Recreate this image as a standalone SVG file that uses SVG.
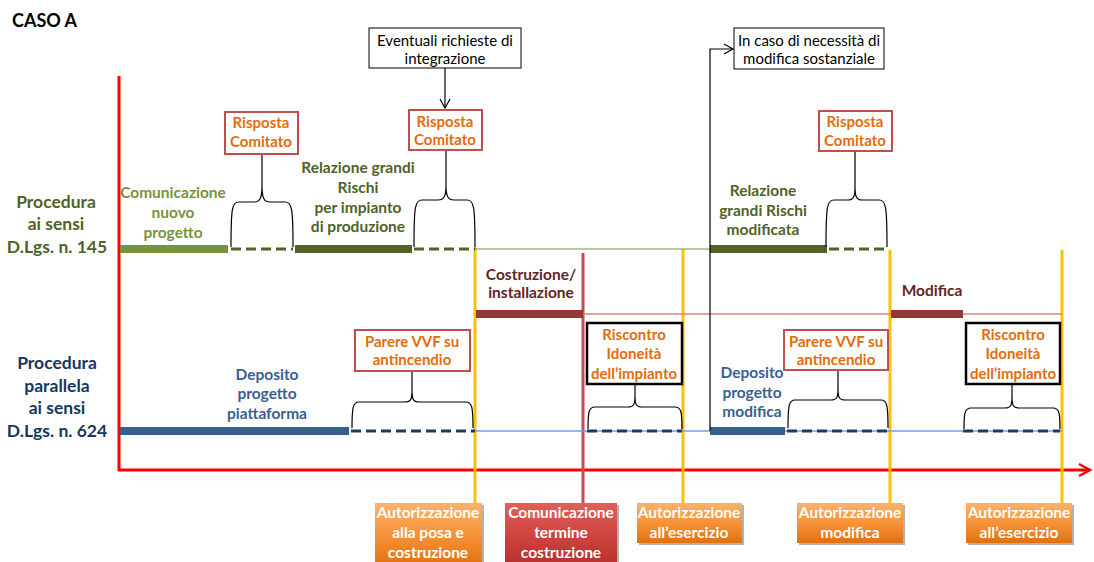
<svg xmlns="http://www.w3.org/2000/svg" width="1094" height="562" viewBox="0 0 1094 562">
<defs>
<style>
text{font-family:Lato,"Liberation Sans",sans-serif;text-anchor:middle}
.b{font-weight:bold}
.g1{fill:#4F6228;font-size:17.5px;font-weight:bold}
.b1{fill:#17375E;font-size:17.5px;font-weight:bold}
.lg{fill:#77933C;font-size:15.5px;font-weight:bold}
.dg{fill:#4F6228;font-size:15.5px;font-weight:bold}
.bl{fill:#376092;font-size:15.5px;font-weight:bold}
.dr{fill:#632523;font-size:15.5px;font-weight:bold}
.or{fill:#E46C0A;font-size:15px;font-weight:bold}
.nt{fill:#000;font-size:15px}
.wt{fill:#fff;font-size:15.5px;font-weight:bold}
.rbox{fill:#fff;stroke:#C0504D;stroke-width:2}
.kbox{fill:#fff;stroke:#000;stroke-width:2.5}
.nbox{fill:#fff;stroke:#000;stroke-width:1}
.brace{fill:none;stroke:#000;stroke-width:1.2}
.dashg{stroke:#4F6228;stroke-width:3;stroke-dasharray:10 5;fill:none}
.dashb{stroke:#1F3864;stroke-width:3;stroke-dasharray:10 5;fill:none}
.yl{stroke:#FFC000;stroke-width:3}
.shadow{fill:#000;opacity:0.3}
</style>
<linearGradient id="og" x1="0" y1="0" x2="0" y2="1">
<stop offset="0" stop-color="#FCB26C"/>
<stop offset="0.5" stop-color="#F79238"/>
<stop offset="1" stop-color="#E1700F"/>
</linearGradient>
<linearGradient id="rg" x1="0" y1="0" x2="0" y2="1">
<stop offset="0" stop-color="#E0605C"/>
<stop offset="0.5" stop-color="#CF4440"/>
<stop offset="1" stop-color="#B3302C"/>
</linearGradient>
<marker id="oa" markerWidth="12" markerHeight="12" refX="10" refY="6" orient="auto" markerUnits="userSpaceOnUse">
<path d="M1,1 L10,6 L1,11" fill="none" stroke="#000" stroke-width="1.2"/>
</marker>
<marker id="ra" markerWidth="16" markerHeight="16" refX="13" refY="8" orient="auto" markerUnits="userSpaceOnUse">
<path d="M2,2 L13,8 L2,14" fill="none" stroke="#FF0000" stroke-width="2.5"/>
</marker>
</defs>

<rect width="1094" height="562" fill="#fff"/>

<text x="12" y="27" class="b" style="text-anchor:start;font-size:18px;fill:#000">CASO A</text>

<g id="labels-left">
<text class="g1" x="56" y="208">Procedura</text>
<text class="g1" x="56" y="230">ai sensi</text>
<text class="g1" x="57" y="253">D.Lgs. n. 145</text>
<text class="b1" x="57" y="369">Procedura</text>
<text class="b1" x="57" y="392">parallela</text>
<text class="b1" x="57" y="414">ai sensi</text>
<text class="b1" x="57" y="437">D.Lgs. n. 624</text>
</g>

<g id="axes">
<line x1="119" y1="76" x2="119" y2="471" stroke="#FF0000" stroke-width="3"/>
<line x1="118" y1="470" x2="1090" y2="470" stroke="#FF0000" stroke-width="3" marker-end="url(#ra)"/>
</g>

<g id="connectors">
<line class="yl" x1="475" y1="247" x2="475" y2="504"/>
<line class="yl" x1="683" y1="249" x2="683" y2="504"/>
<line class="yl" x1="890" y1="250" x2="890" y2="504"/>
<line class="yl" x1="1062" y1="250" x2="1062" y2="504"/>
<line x1="583" y1="253" x2="583" y2="504" stroke="#C0504D" stroke-width="3"/>
<line x1="475" y1="249" x2="710" y2="249" stroke="#77933C" stroke-width="1"/>
<line x1="120" y1="249" x2="228" y2="249" stroke="#77933C" stroke-width="8"/>
<line class="dashg" x1="231" y1="249" x2="293" y2="249"/>
<line x1="295" y1="249" x2="412" y2="249" stroke="#4F6228" stroke-width="8"/>
<line class="dashg" x1="414" y1="249" x2="475" y2="249"/>
<line x1="710" y1="249" x2="827" y2="249" stroke="#4F6228" stroke-width="8"/>
<line class="dashg" x1="829" y1="249" x2="887" y2="249"/>
<line x1="583" y1="314" x2="1062" y2="314" stroke="#D08583" stroke-width="1.5"/>
<line x1="476" y1="314" x2="583" y2="314" stroke="#953735" stroke-width="8"/>
<line x1="891" y1="314" x2="963" y2="314" stroke="#953735" stroke-width="8"/>
<line x1="475" y1="431" x2="1062" y2="431" stroke="#6FA0DC" stroke-width="1.5"/>
<line x1="120" y1="431" x2="349" y2="431" stroke="#366092" stroke-width="8"/>
<line class="dashb" x1="351" y1="431" x2="475" y2="431"/>
<line class="dashb" x1="587" y1="431" x2="682" y2="431"/>
<line x1="710" y1="431" x2="785" y2="431" stroke="#366092" stroke-width="8"/>
<line class="dashb" x1="787" y1="431" x2="888" y2="431"/>
<line class="dashb" x1="963" y1="431" x2="1060" y2="431"/>
<line x1="445" y1="68" x2="445" y2="108" stroke="#000" stroke-width="1.2" marker-end="url(#oa)"/>
<polyline points="710,431 710,49 733,49" fill="none" stroke="#000" stroke-width="1.2" marker-end="url(#oa)"/>
<path class="brace" d="M231,247 C231,208 232,202 239,202 L254,202 C260,202 262,198 262,186 L262,155 M262,186 C262,198 264,202 270,202 L285,202 C292,202 293,208 293,247"/>
<path class="brace" d="M414,247 C414,206 415,200 422,200 L438,200 C444,200 446,196 446,186 L446,150 M446,186 C446,196 448,200 454,200 L467,200 C474,200 475,206 475,247"/>
<path class="brace" d="M826,247 C826,206 827,200 834,200 L848,200 C854,200 855,196 855,186 L855,151 M855,186 C855,196 856,200 862,200 L879,200 C886,200 887,206 887,247"/>
<path class="brace" d="M352,428 C352,407 353,402 359,402 L405,402 C411,402 412,399 412,390 L412,371 M412,390 C412,399 413,402 419,402 L466,402 C472,402 473,407 473,428"/>
<path class="brace" d="M588,429 C588,411 589,407 595,407 L628,407 C634,407 635,404 635,396 L635,384 M635,396 C635,404 636,407 642,407 L675,407 C681,407 682,411 682,429"/>
<path class="brace" d="M788,428 C788,405 789,400 795,400 L831,400 C837,400 838,397 838,389 L838,370 M838,389 C838,397 839,400 845,400 L881,400 C887,400 888,405 888,428"/>
<path class="brace" d="M964,429 C964,412 965,408 971,408 L1005,408 C1011,408 1012,405 1012,397 L1012,384 M1012,397 C1012,405 1013,408 1019,408 L1053,408 C1059,408 1060,412 1060,429"/>
</g>

<g id="lbl-comunicazione">
<text class="lg" x="173" y="198">Comunicazione</text>
<text class="lg" x="173" y="218">nuovo</text>
<text class="lg" x="173" y="238">progetto</text>
</g>
<g id="lbl-relazione">
<text class="dg" x="358" y="173">Relazione grandi</text>
<text class="dg" x="358" y="193">Rischi</text>
<text class="dg" x="358" y="213">per impianto</text>
<text class="dg" x="358" y="232">di produzione</text>
</g>
<g id="lbl-relazione-mod">
<text class="dg" x="763" y="196">Relazione</text>
<text class="dg" x="763" y="216">grandi Rischi</text>
<text class="dg" x="763" y="235">modificata</text>
</g>
<g id="lbl-costruzione">
<text class="dr" x="531" y="280">Costruzione/</text>
<text class="dr" x="531" y="298">installazione</text>
</g>
<g id="lbl-modifica">
<text class="dr" x="932" y="296">Modifica</text>
</g>
<g id="lbl-deposito">
<text class="bl" x="267" y="380">Deposito</text>
<text class="bl" x="267" y="399">progetto</text>
<text class="bl" x="267" y="419">piattaforma</text>
</g>
<g id="lbl-deposito-mod">
<text class="bl" x="752" y="378">Deposito</text>
<text class="bl" x="752" y="398">progetto</text>
<text class="bl" x="752" y="417">modifica</text>
</g>

<g id="box-eventuali">
<rect class="nbox" x="369" y="28" width="152" height="40"/>
<text class="nt" x="445" y="46">Eventuali richieste di</text>
<text class="nt" x="445" y="64">integrazione</text>
</g>
<g id="box-incaso">
<rect class="nbox" x="734" y="28" width="150" height="41"/>
<text class="nt" x="809" y="46">In caso di necessità di</text>
<text class="nt" x="809" y="64">modifica sostanziale</text>
</g>

<g id="box-risposta1">
<rect class="rbox" x="225" y="112" width="73" height="42"/>
<text class="or" x="261" y="128">Risposta</text>
<text class="or" x="261" y="147">Comitato</text>
</g>
<g id="box-risposta2">
<rect class="rbox" x="409" y="110" width="73" height="40"/>
<text class="or" x="445" y="127">Risposta</text>
<text class="or" x="445" y="145">Comitato</text>
</g>
<g id="box-risposta3">
<rect class="rbox" x="819" y="111" width="73" height="40"/>
<text class="or" x="855" y="127">Risposta</text>
<text class="or" x="855" y="146">Comitato</text>
</g>

<g id="box-parere1">
<rect class="rbox" x="355" y="330" width="115" height="41"/>
<text class="or" x="412" y="347">Parere VVF su</text>
<text class="or" x="412" y="365">antincendio</text>
</g>
<g id="box-parere2">
<rect class="rbox" x="784" y="330" width="104" height="40"/>
<text class="or" x="836" y="347">Parere VVF su</text>
<text class="or" x="836" y="365">antincendio</text>
</g>
<g id="box-riscontro1">
<rect class="kbox" x="587" y="323" width="95" height="61"/>
<text class="or" x="634" y="340">Riscontro</text>
<text class="or" x="634" y="359">Idoneità</text>
<text class="or" x="634" y="379">dell’impianto</text>
</g>
<g id="box-riscontro2">
<rect class="kbox" x="966" y="323" width="94" height="61"/>
<text class="or" x="1013" y="340">Riscontro</text>
<text class="or" x="1013" y="359">Idoneità</text>
<text class="or" x="1013" y="379">dell’impianto</text>
</g>

<g id="aut-posa">
<rect class="shadow" x="377" y="505" width="107" height="64"/>
<rect x="375" y="503" width="107" height="64" fill="url(#og)"/>
<text class="wt" x="428" y="518">Autorizzazione</text>
<text class="wt" x="428" y="538">alla posa e</text>
<text class="wt" x="428" y="558">costruzione</text>
</g>
<g id="com-termine">
<rect class="shadow" x="507" y="505" width="112" height="64"/>
<rect x="505" y="503" width="112" height="64" fill="url(#rg)"/>
<text class="wt" x="561" y="518">Comunicazione</text>
<text class="wt" x="561" y="538">termine</text>
<text class="wt" x="561" y="558">costruzione</text>
</g>
<g id="aut-esercizio1">
<rect class="shadow" x="639" y="505" width="105" height="40"/>
<rect x="637" y="503" width="105" height="40" fill="url(#og)"/>
<text class="wt" x="689" y="518">Autorizzazione</text>
<text class="wt" x="689" y="538">all’esercizio</text>
</g>
<g id="aut-modifica">
<rect class="shadow" x="799" y="505" width="106" height="40"/>
<rect x="797" y="503" width="106" height="40" fill="url(#og)"/>
<text class="wt" x="850" y="518">Autorizzazione</text>
<text class="wt" x="850" y="538">modifica</text>
</g>
<g id="aut-esercizio2">
<rect class="shadow" x="968" y="505" width="106" height="40"/>
<rect x="966" y="503" width="106" height="40" fill="url(#og)"/>
<text class="wt" x="1019" y="518">Autorizzazione</text>
<text class="wt" x="1019" y="538">all’esercizio</text>
</g>
</svg>
